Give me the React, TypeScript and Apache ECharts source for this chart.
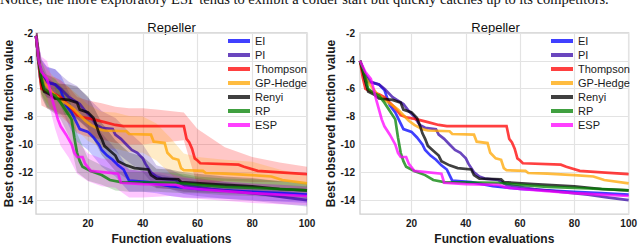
import React, { useEffect, useRef } from "react";
import * as echarts from "echarts";

const seriesNames = ["EI", "PI", "Thompson", "GP-Hedge", "Renyi", "RP", "ESP"];
const seriesRgb = [
  [0, 0, 255],
  [56, 8, 168],
  [255, 0, 0],
  [255, 165, 0],
  [0, 0, 0],
  [0, 128, 0],
  [255, 0, 255],
];

const xTicks = [20, 40, 60, 80, 100];
const yTicks = [-14, -12, -10, -8, -6, -4, -2];

// right panel curves (breakpoints [evaluation, best value])
const eiCurve = [[1,-4],[3,-5.0],[4,-5.5],[8,-5.7],[10,-6.1],[12,-7.2],[14,-7.7],[16,-8.5],[17,-8.9],[20,-9.1],[22,-9.5],[24,-10.0],[25,-10.4],[27,-10.8],[29,-11.1],[31,-11.5],[33,-11.8],[34,-12.2],[35,-12.6],[42,-12.7],[50,-13.0],[60,-13.2],[70,-13.3],[80,-13.4],[90,-13.5],[100,-13.6]];
const piCurve = [[1,-4],[3,-5.0],[5,-5.5],[8,-5.7],[10,-6.0],[13,-6.6],[15,-6.85],[17,-7.1],[19,-7.6],[21,-8.0],[23,-8.6],[25,-8.8],[29,-8.9],[30,-9.3],[32,-9.6],[34,-10.0],[36,-10.4],[38,-10.6],[39,-10.8],[40,-11.0],[41,-11.4],[43,-12.0],[45,-12.3],[47,-12.45],[52,-12.55],[55,-12.9],[65,-13.2],[75,-13.4],[85,-13.6],[92,-13.8],[100,-14.0]];
const thompsonCurve = [[1,-4],[2,-5.2],[3,-6.0],[5,-6.2],[8,-6.4],[10,-6.6],[12,-7.0],[14,-7.4],[16,-7.9],[18,-8.05],[22,-8.2],[26,-8.4],[30,-8.6],[33,-8.68],[55,-8.68],[56,-9.6],[57,-9.85],[58,-10.3],[59,-11.0],[60,-11.15],[61,-11.35],[75,-11.45],[77,-11.6],[82,-11.9],[90,-12.0],[100,-12.13]];
const hedgeCurve = [[1,-4],[3,-5.2],[5,-5.8],[7,-6.3],[10,-6.8],[13,-7.2],[15,-7.5],[17,-7.9],[19,-8.3],[21,-8.6],[24,-8.9],[26,-9.0],[34,-9.05],[35,-9.25],[43,-9.3],[44,-9.8],[48,-9.9],[49,-10.6],[51,-11.0],[53,-11.1],[54,-11.7],[55,-11.85],[62,-11.9],[63,-12.05],[70,-12.1],[80,-12.2],[87,-12.3],[91,-12.55],[100,-12.8]];
const renyiCurve = [[1,-4],[3,-5.5],[4,-6.2],[6,-6.4],[8,-6.7],[13,-6.8],[16,-7.0],[17,-7.5],[20,-7.7],[22,-8.1],[23,-8.6],[24,-9.2],[25,-9.6],[26,-10.1],[28,-10.45],[30,-10.8],[31,-11.2],[34,-11.5],[37,-11.7],[42,-11.8],[43,-12.2],[45,-12.45],[53,-12.5],[54,-12.7],[65,-12.85],[80,-13.0],[90,-13.2],[100,-13.3]];
const rpCurve = [[1,-4],[3,-5.2],[4,-6.0],[6,-6.3],[8,-6.5],[10,-7.0],[12,-7.6],[14,-8.2],[15,-9.5],[16,-10.6],[17,-11.2],[18,-11.6],[21,-11.9],[25,-12.2],[28,-12.55],[32,-12.7],[52,-12.75],[60,-12.9],[70,-13.05],[85,-13.15],[100,-13.3]];
const espCurve = [[1,-4],[3,-4.8],[5,-5.3],[6,-6.0],[7,-6.8],[8,-7.5],[9,-8.2],[10,-8.7],[12,-9.3],[14,-10.0],[15,-10.6],[16,-10.9],[18,-10.9],[19,-11.4],[21,-11.9],[31,-12.1],[32,-12.75],[40,-12.85],[52,-12.9],[55,-13.1],[60,-13.2],[70,-13.35],[80,-13.5],[90,-13.6],[100,-13.7]];

// left panel: first evaluations differ (start near the top)
const leftStart = [[1, -2.2], [2, -4.0]];

// left panel shaded bands
const bandX = [1, 2, 3, 5, 8, 10, 13, 16, 20, 25, 30, 35, 40, 45, 50, 55, 60, 70, 80, 90, 100];
const eiHi = [-1.0,-2.8,-3.9,-4.45,-4.6,-5.0,-6.25,-7.2,-7.8,-9.2,-10.3,-11.8,-11.9,-12.1,-12.3,-12.4,-12.55,-12.7,-12.8,-12.9,-13.0];
const eiLo = [-3.4,-5.2,-6.1,-6.65,-6.8,-7.2,-8.65,-9.8,-10.4,-11.6,-12.3,-13.4,-13.4,-13.5,-13.7,-13.8,-13.85,-13.9,-14.0,-14.1,-14.2];
const piHi = [-1.0,-2.8,-3.9,-4.4,-4.6,-5.0,-5.5,-5.8,-6.65,-7.6,-8.1,-9.1,-10.0,-11.5,-11.8,-12.25,-12.4,-12.7,-12.95,-13.25,-13.55];
const piLo = [-3.4,-5.2,-6.1,-6.6,-6.8,-7.0,-7.7,-8.2,-8.95,-10.0,-10.5,-11.3,-12.0,-13.1,-13.2,-13.55,-13.7,-13.9,-14.05,-14.25,-14.45];
const thompsonHi = [-1.0,-2.8,-4.8,-5.0,-5.2,-5.4,-5.9,-6.6,-6.85,-7.05,-7.3,-7.4,-7.4,-7.5,-7.6,-7.7,-8.9,-10.2,-10.9,-11.3,-11.6];
const thompsonLo = [-3.4,-5.2,-7.2,-7.4,-7.6,-7.8,-8.5,-9.2,-9.45,-9.65,-9.9,-10.0,-10.0,-9.9,-9.8,-9.7,-13.0,-12.6,-12.7,-12.7,-12.7];
const hedgeHi = [-1.0,-2.8,-4.0,-4.6,-5.25,-5.6,-5.9,-6.4,-7.15,-7.65,-7.7,-7.95,-8.0,-8.5,-9.5,-10.65,-10.9,-11.1,-11.25,-11.8,-12.25];
const hedgeLo = [-3.4,-5.2,-6.4,-7.0,-7.7,-8.0,-8.5,-9.0,-9.75,-10.25,-10.3,-10.55,-10.6,-11.15,-12.1,-13.05,-12.9,-13.1,-13.15,-13.2,-13.35];
const renyiHi = [-1.0,-2.8,-4.4,-5.2,-5.6,-5.65,-5.7,-5.85,-6.55,-8.45,-9.7,-10.57,-10.86,-11.75,-11.8,-12.0,-12.1,-12.3,-12.4,-12.65,-12.8];
const renyiLo = [-3.4,-5.2,-6.6,-7.4,-7.8,-7.85,-7.9,-8.15,-8.85,-10.75,-11.9,-12.57,-12.66,-13.15,-13.2,-13.4,-13.45,-13.5,-13.6,-13.75,-13.8];
const rpHi = [-1.0,-2.8,-4.0,-5.0,-5.3,-5.8,-6.4,-9.2,-11.0,-11.5,-11.9,-12.0,-12.0,-12.05,-12.05,-12.1,-12.3,-12.45,-12.5,-12.6,-12.7];
const rpLo = [-3.4,-5.2,-6.4,-7.3,-7.7,-8.2,-9.4,-12.0,-12.6,-12.9,-13.3,-13.4,-13.4,-13.4,-13.45,-13.5,-13.5,-13.65,-13.7,-13.8,-13.9];
const espHi = [-1.0,-2.8,-3.7,-4.0,-6.1,-7.3,-8.35,-9.7,-10.65,-11.0,-11.1,-11.8,-11.9,-12.0,-12.1,-12.35,-12.5,-12.65,-12.8,-12.9,-13.05];
const espLo = [-3.4,-5.2,-5.9,-6.6,-8.9,-10.1,-10.95,-12.1,-12.65,-13.0,-13.1,-13.8,-13.8,-13.75,-13.7,-13.85,-13.9,-14.05,-14.2,-14.3,-14.35];

const curves = [eiCurve, piCurve, thompsonCurve, hedgeCurve, renyiCurve, rpCurve, espCurve];
const bandHi = [eiHi, piHi, thompsonHi, hedgeHi, renyiHi, rpHi, espHi];
const bandLo = [eiLo, piLo, thompsonLo, hedgeLo, renyiLo, rpLo, espLo];

const titleText = "Repeller";
const xName = "Function evaluations";
const yName = "Best observed function value";
const caption = "Notice, the more exploratory ESP tends to exhibit a colder start but quickly catches up to its competitors.";

const SANS = "Liberation Sans, Arial, Helvetica, sans-serif";
const INK = "#1a1a1a";

function rgba(c: number[], a: number) {
  return `rgba(${c[0]},${c[1]},${c[2]},${a})`;
}

const grids = [
  { left: 36, top: 33, width: 271, height: 192 },
  { left: 360, top: 33, width: 271, height: 192 },
];

export default function App() {
  const ref = useRef<HTMLDivElement>(null);
  useEffect(() => {
    if (!ref.current) return;
    const chart = echarts.init(ref.current, null, { renderer: "svg" });

    const xAxes = grids.map((_, i) => ({
      type: "value",
      gridIndex: i,
      min: 1,
      max: 100,
      axisLine: { show: false },
      axisTick: { show: false, customValues: xTicks },
      axisLabel: {
        customValues: xTicks,
        fontSize: 10,
        fontWeight: "bold",
        color: INK,
        margin: 4,
        fontFamily: SANS,
      },
      splitLine: { show: true, lineStyle: { color: "#e3e3e3", width: 1.2 } },
      name: xName,
      nameLocation: "middle",
      nameGap: 15,
      nameTextStyle: { fontSize: 12, fontWeight: "bold", color: INK, fontFamily: SANS },
    }));
    const yAxes = grids.map((_, i) => ({
      type: "value",
      gridIndex: i,
      min: -15,
      max: -2,
      axisLine: { show: false },
      axisTick: { show: false, customValues: yTicks },
      axisLabel: {
        customValues: yTicks,
        fontSize: 10,
        fontWeight: "bold",
        color: INK,
        margin: i === 0 ? 3 : 5,
        fontFamily: SANS,
      },
      splitLine: { show: true, lineStyle: { color: "#e3e3e3", width: 1.2 } },
      name: yName,
      nameLocation: "middle",
      nameGap: i === 0 ? 19 : 21,
      nameTextStyle: { fontSize: 12, fontWeight: "bold", color: INK, fontFamily: SANS },
    }));

    const series: any[] = [];
    // bands (left panel)
    seriesNames.forEach((name, s) => {
      const hi = bandHi[s];
      const lo = bandLo[s];
      series.push({
        type: "custom",
        name: name + " band",
        xAxisIndex: 0,
        yAxisIndex: 0,
        silent: true,
        clip: true,
        z: 1,
        data: [[50, -8]],
        renderItem: (_params: any, api: any) => {
          const pts: number[][] = [];
          for (let i = 0; i < bandX.length; i++) pts.push(api.coord([bandX[i], hi[i]]));
          for (let i = bandX.length - 1; i >= 0; i--) pts.push(api.coord([bandX[i], lo[i]]));
          return {
            type: "polygon",
            shape: { points: pts },
            style: { fill: rgba(seriesRgb[s], 0.22), stroke: "none" },
          };
        },
      });
    });
    // lines, both panels
    [0, 1].forEach((g) => {
      seriesNames.forEach((name, s) => {
        const c = rgba(seriesRgb[s], 0.75);
        const data =
          g === 0
            ? leftStart.concat(curves[s].filter((p) => p[0] >= 3))
            : curves[s];
        series.push({
          type: "line",
          name,
          xAxisIndex: g,
          yAxisIndex: g,
          data,
          color: c,
          showSymbol: false,
          symbol: "none",
          clip: true,
          z: 3,
          lineStyle: { width: 2.7, color: c, cap: "butt", join: "miter" },
          itemStyle: { color: c },
        });
      });
    });

    const legendBase = {
      orient: "vertical",
      top: 34,
      itemWidth: 22,
      itemHeight: 4,
      itemGap: 0,
      icon: "rect",
      padding: 0,
      selectedMode: false,
      data: seriesNames,
      textStyle: { fontSize: 11, lineHeight: 14, color: INK, fontFamily: SANS },
    };

    chart.setOption({
      animation: false,
      backgroundColor: "#ffffff",
      grid: grids.map((g) => ({
        ...g,
        show: true,
        borderColor: "#cfcfcf",
        borderWidth: 1.3,
        backgroundColor: "#ffffff",
      })),
      xAxis: xAxes,
      yAxis: yAxes,
      legend: [
        { ...legendBase, left: 228 },
        { ...legendBase, left: 551 },
      ],
      graphic: [
        {
          type: "text",
          x: 0,
          y: -1,
          style: {
            text: caption,
            fontSize: 14.5,
            fontFamily: "Liberation Serif, Times New Roman, serif",
            fill: "#111111",
            align: "left",
            verticalAlign: "middle",
          },
        },
        ...grids.map((g) => ({
          type: "text",
          x: g.left + g.width / 2,
          y: 27,
          style: {
            text: titleText,
            fontSize: 13,
            fontFamily: SANS,
            fill: "#111111",
            align: "center",
            verticalAlign: "middle",
          },
        })),
      ],
      series,
    });
    return () => chart.dispose();
  }, []);
  return (
    <div
      ref={ref}
      style={{ position: "absolute", left: 0, top: 0, width: 640, height: 250 }}
    />
  );
}
